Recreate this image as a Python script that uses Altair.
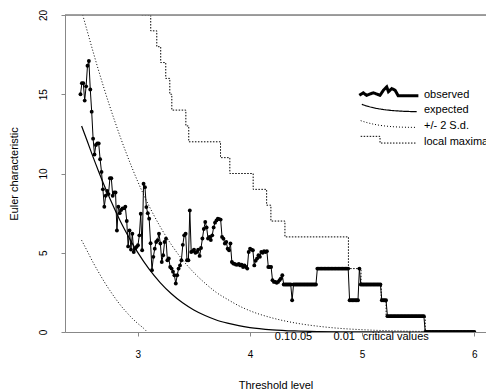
import altair as alt
import numpy as np
import pandas as pd

FONT = "Liberation Sans"

# ---------------- data ----------------
obs_y = [
    15.0, 15.7, 15.7, 14.6, 15.5, 16.8, 17.1, 15.3, 13.9, 12.2,
    11.2, 11.8, 11.9, 11.9, 10.9, 10.1, 9.0, 7.9, 8.6, 8.9,
    8.7, 9.7, 9.7, 8.6, 8.8, 8.8, 6.4, 7.9, 7.5, 7.7,
    7.8, 7.8, 7.9, 7.0, 5.4, 6.4, 5.2, 6.2, 5.05, 5.26,
    5.37, 5.47, 6.1, 7.46, 5.16, 9.35, 9.14, 7.88, 7.5, 7.15,
    5.6, 3.9, 4.74, 5.26, 5.68, 5.79, 6.2, 5.58, 4.42, 4.84,
    5.68, 5.89, 4.53, 4.64, 4.1, 4.0, 3.8, 3.58, 3.06, 3.58,
    4.0, 4.2, 4.53, 5.5, 6.1, 6.2, 4.53, 4.53, 7.67, 5.05,
    5.1, 5.2, 5.0, 5.05, 5.2, 4.8, 5.3, 5.9, 6.5, 6.94,
    6.6, 5.9, 6.0, 5.8, 6.1, 6.6, 6.9, 7.04, 7.15, 7.12,
    7.09, 6.0, 5.89, 5.58, 5.68, 5.26, 5.16, 5.58, 4.42, 4.32,
    4.3, 4.25, 4.25, 4.3, 4.2, 4.25, 4.1, 4.2, 4.1, 4.0,
    5.05, 5.26, 5.2, 5.16, 4.2, 4.5, 4.64, 4.84, 4.74, 5.05,
    5.0, 5.1, 5.05, 5.1, 4.1, 4.1, 4.1, 3.27, 3.16, 3.16,
    3.1, 3.16, 3.27, 3.38, 3.58,
] + [3] * 6 + [2] + [3] * 17 + [4] * 23 + [2] * 7 + [4] + [3] * 15 + [2] * 4 + [1] * 27 + [0] * 36
obs_x = np.round(np.linspace(2.49, 6.0, len(obs_y)), 4)

exp_x = [2.50, 2.55, 2.60, 2.65, 2.70, 2.75, 2.80, 2.85, 2.90, 2.95, 3.00, 3.10, 3.20,
         3.30, 3.40, 3.50, 3.60, 3.70, 3.80, 3.90, 4.00, 4.20, 4.40, 4.60, 4.80, 5.00, 5.50, 6.00]
exp_y = [13.0, 12.05, 11.08, 10.16, 9.28, 8.45, 7.67, 6.93, 6.25, 5.61, 5.02, 3.98, 3.12,
         2.41, 1.84, 1.39, 1.04, 0.76, 0.56, 0.40, 0.28, 0.139, 0.065, 0.029, 0.012, 0.005, 0.0004, 0.0]

up_x = [2.51, 2.55, 2.60, 2.65, 2.70, 2.75, 2.80, 2.85, 2.90, 2.95, 3.00, 3.10, 3.20,
        3.30, 3.40, 3.50, 3.60, 3.70, 3.80, 3.90, 4.00, 4.20, 4.40, 4.60, 4.80, 5.00, 5.50, 6.00]
up_y = [20.0, 18.99, 17.74, 16.53, 15.37, 14.26, 13.21, 12.20, 11.25, 10.35, 9.50, 7.97, 6.65,
        5.51, 4.55, 3.75, 3.08, 2.50, 2.06, 1.66, 1.34, 0.885, 0.575, 0.37, 0.23, 0.145, 0.04, 0.01]

lo_x = [2.50, 2.55, 2.60, 2.65, 2.70, 2.75, 2.80, 2.85, 2.90, 2.95, 3.00, 3.05, 3.085]
lo_y = [5.79, 5.11, 4.42, 3.79, 3.19, 2.64, 2.13, 1.66, 1.25, 0.87, 0.54, 0.25, 0.0]

lm_x = [3.036, 3.116, 3.170, 3.205, 3.250, 3.286, 3.304, 3.429, 3.455, 3.738, 3.821,
        4.029, 4.149, 4.187, 4.312, 4.878, 4.990, 5.170, 5.214, 5.562, 6.000]
lm_y = [20, 19, 18, 17, 16, 15, 14, 13, 12, 11, 10,
        9, 8, 7, 6, 4, 3, 2, 1, 0, 0]

crit_labels = ["0.1", "0.05", "0.01", "critical values"]
crit_x = [4.29, 4.46, 4.84, 5.30]

legend_labels = ["observed", "expected", "+/- 2 S.d.", "local maxima"]

# ---------------- styling ----------------
W, H = 421, 317
xs = alt.Scale(domain=[2.352, 6.104], nice=False, zero=False)
ys = alt.Scale(domain=[0, 20], nice=False, zero=False)

x_enc = alt.X("x:Q", scale=xs, axis=alt.Axis(
    values=[3, 4, 5, 6], format="d", title="Threshold level", grid=False,
    tickSize=4, labelPadding=21, labelBaseline="alphabetic", labelFlush=False,
    labelOverlap=False, titleY=56, titleBaseline="alphabetic",
    titleFontWeight="normal", titleFont=FONT, titleFontSize=11))
y_enc = alt.Y("y:Q", scale=ys, axis=alt.Axis(
    values=[0, 5, 10, 15, 20], format="d", title="Euler characteristic", grid=False,
    tickSize=4, labelPadding=15, labelAngle=270, labelAlign="center",
    labelBaseline="alphabetic", labelOverlap=False, labelFlush=False,
    titleAngle=270, titleX=-48, titleBaseline="alphabetic",
    titleFontWeight="normal", titleFont=FONT, titleFontSize=11))

df_obs = pd.DataFrame({"x": obs_x, "y": obs_y})
df_exp = pd.DataFrame({"x": exp_x, "y": exp_y})
df_up = pd.DataFrame({"x": up_x, "y": up_y})
df_lo = pd.DataFrame({"x": lo_x, "y": lo_y})
df_lm = pd.DataFrame({"x": lm_x, "y": lm_y})
df_crit = pd.DataFrame({"x": crit_x, "y": [0] * len(crit_x), "label": crit_labels})
df_top = pd.DataFrame({"y": [20]})

lower = alt.Chart(df_lo).mark_line(color="black", strokeWidth=1, strokeDash=[1, 2],
                                   interpolate="monotone", clip=True).encode(x=x_enc, y=y_enc)
upper = alt.Chart(df_up).mark_line(color="black", strokeWidth=1, strokeDash=[1, 2],
                                   interpolate="monotone", clip=True).encode(x=x_enc, y=y_enc)
expected = alt.Chart(df_exp).mark_line(color="black", strokeWidth=1.2,
                                       interpolate="monotone", clip=True).encode(x=x_enc, y=y_enc)
locmax = alt.Chart(df_lm).mark_line(color="black", strokeWidth=1, strokeDash=[1.5, 1.5],
                                    interpolate="step-after", clip=True).encode(x=x_enc, y=y_enc)
obs_line = alt.Chart(df_obs).mark_line(color="black", strokeWidth=1, clip=True).encode(x=x_enc, y=y_enc)
obs_pts = alt.Chart(df_obs).mark_circle(color="black", size=15, opacity=1, clip=True).encode(x=x_enc, y=y_enc)
top_rule = alt.Chart(df_top).mark_rule(color="#808080", strokeWidth=1.5).encode(y=y_enc)
crit = alt.Chart(df_crit).mark_text(font=FONT, fontSize=11, baseline="alphabetic", dy=8,
                                    color="black").encode(x=x_enc, y=y_enc, text="label:N")

# legend samples (small shapes) and labels
legend_paths = [
    "M-1.05,0.1 L-0.91,0.01 L-0.79,0.1 L-0.55,0.01 L-0.31,0.1 L-0.19,-0.08 L-0.07,-0.2 "
    "L-0.01,-0.03 L0.11,-0.14 L0.23,-0.08 L0.34,0.12 L1.06,0.12",
    "M-0.96,-0.14 C-0.6,-0.02 -0.2,0.1 1,0.12",
    "M-1,-0.12 C-0.5,0.05 0,0.12 0.96,0.12",
    "M-1,-0.12 L-0.31,-0.12 L-0.31,0.12 L1,0.12",
]
legend_widths = [3, 1.2, 1, 1]
legend_dash = [[1, 0], [1, 0], [1, 2], [1.5, 1.5]]
legend_rows = [79.5, 95.3, 111, 126.7]

legend_layers = []
for lab, pth, wd, dsh, ry in zip(legend_labels, legend_paths, legend_widths, legend_dash, legend_rows):
    d = pd.DataFrame({"label": [lab]})
    legend_layers.append(
        alt.Chart(d).mark_point(shape=pth, size=3136, filled=False, color="black",
                                strokeWidth=wd, strokeDash=dsh, opacity=1)
        .encode(x=alt.value(323.7), y=alt.value(ry - 2)))
    legend_layers.append(
        alt.Chart(d).mark_text(font=FONT, fontSize=11, align="left", baseline="middle",
                               color="black")
        .encode(x=alt.value(359), y=alt.value(ry), text="label:N"))

chart = alt.layer(
    lower, upper, expected, locmax, obs_line, obs_pts, top_rule, crit, *legend_layers
).properties(
    width=W, height=H,
    autosize=alt.AutoSizeParams(type="none"),
    padding={"left": 65, "top": 15, "right": 0, "bottom": 57},
).configure_view(strokeWidth=0).configure_axis(
    labelFont=FONT, titleFont=FONT, labelFontSize=11, titleFontSize=11,
    titleFontWeight="normal", labelColor="black", titleColor="black",
    domainColor="black", tickColor="black", domainWidth=1.2, tickWidth=1,
).configure(background="white")

chart.save("out.html", embed_options={"renderer": "svg", "actions": False})
